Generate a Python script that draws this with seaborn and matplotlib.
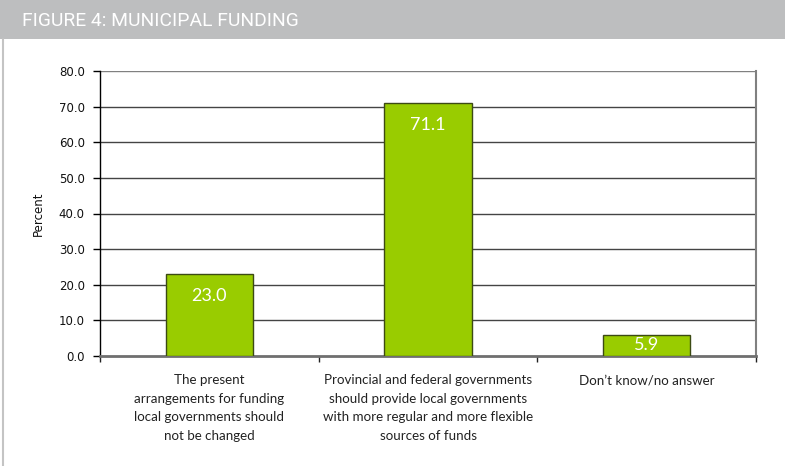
import matplotlib
matplotlib.use("Agg")
import matplotlib.pyplot as plt
from matplotlib.patches import Rectangle
from matplotlib.lines import Line2D
import seaborn as sns
import pandas as pd

title = "FIGURE 4: MUNICIPAL FUNDING"
categories = [
    "The present\narrangements for funding\nlocal governments should\nnot be changed",
    "Provincial and federal governments\nshould provide local governments\nwith more regular and more flexible\nsources of funds",
    "Don\u2019t know/no answer",
]
values = [23.0, 71.1, 5.9]
y_ticks = [0, 10, 20, 30, 40, 50, 60, 70, 80]
y_label = "Percent"

df = pd.DataFrame({"category": categories, "percent": values})

sns.set_theme(style="white")
plt.rcParams["font.family"] = ["DejaVu Sans"]

fig = plt.figure(figsize=(7.85, 4.66), dpi=100)
fig.patch.set_facecolor("white")

# header band and left border
fig.patches.append(Rectangle((0, 1 - 39 / 466), 1, 39 / 466, transform=fig.transFigure,
                             facecolor="#bdbebf", edgecolor="none", zorder=0))
fig.lines.append(Line2D([2.5 / 785, 2.5 / 785], [0, 1 - 39 / 466], transform=fig.transFigure,
                        color="#c4c4c4", lw=1.5))
fig.text(22 / 785, 1 - 21 / 466, title, color="white", fontsize=13.9,
         family="Roboto", va="center", ha="left")

ax = fig.add_axes([100 / 785, 1 - 356 / 466, 656 / 785, 285 / 466])
sns.barplot(data=df, x="category", y="percent", ax=ax, color="#99cc00",
            width=0.4, edgecolor="#3c4a14", linewidth=1.0, saturation=1, zorder=3)

ax.set_xlim(-0.5, 2.5)
ax.set_ylim(0, 80)
ax.set_yticks(y_ticks)
ax.set_yticklabels([f"{v:.1f}" for v in y_ticks], fontsize=8.5, color="#111111")
ax.set_ylabel(y_label, fontsize=8.5, color="#111111", labelpad=10)
ax.set_xlabel("")

for y in y_ticks[1:]:
    ax.axhline(y, color="#444444" if y < 80 else "#808080", lw=1.0, zorder=1)

ax.spines["top"].set_visible(False)
ax.spines["left"].set_color("black")
ax.spines["left"].set_linewidth(1.0)
ax.spines["right"].set_color("#808080")
ax.spines["right"].set_linewidth(1.5)
ax.spines["bottom"].set_color("#6f6f6f")
ax.spines["bottom"].set_linewidth(2.0)

ax.tick_params(axis="y", which="major", left=True, length=5, width=1, color="black", pad=6)
ax.tick_params(axis="x", which="major", bottom=False, pad=7)
ax.set_xticks([-0.5, 0.5, 1.5, 2.5], minor=True)
ax.tick_params(axis="x", which="minor", bottom=True, length=4, width=1, color="#222222")
for lbl in ax.get_xticklabels():
    lbl.set_fontsize(9.6)
    lbl.set_family("Lato")
    lbl.set_color("#222222")
    lbl.set_linespacing(1.66)
    lbl.set_verticalalignment("top")

# value labels inside the bar tops
for i, v in enumerate(values):
    if v > 15:
        ax.annotate(f"{v:.1f}", (i, v), xytext=(0, -10), textcoords="offset points",
                    ha="center", va="top", color="white", fontsize=13, family="Lato", zorder=5)
    else:
        ax.annotate(f"{v:.1f}", (i, v / 2), xytext=(0, 0), textcoords="offset points",
                    ha="center", va="center", color="white", fontsize=13, family="Lato", zorder=5)

fig.savefig("out.png", dpi=100, facecolor="white")
